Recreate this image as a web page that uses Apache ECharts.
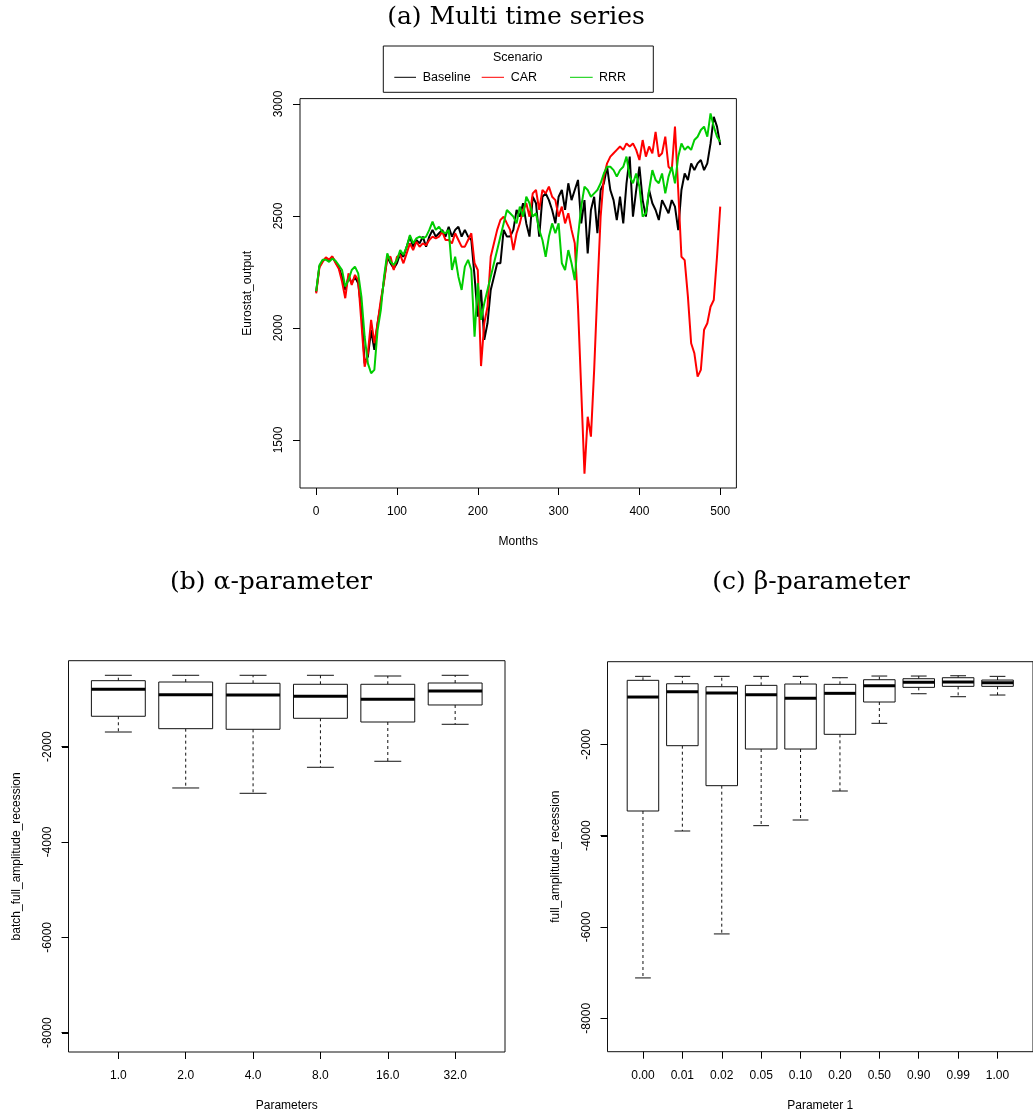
<!DOCTYPE html>
<html><head><meta charset="utf-8">
<script src="https://cdn.jsdelivr.net/npm/echarts@6/dist/echarts.min.js"></script>
<style>html,body{margin:0;padding:0;background:#fff}#c{width:1033px;height:1115px}</style>
</head><body><div id="c"></div>
<script>
// ---------- (a) Multi time series ----------
const months = [
  0,4,8,12,16,20,24,28,32,36,
  40,44,48,52,56,60,64,68,72,76,
  80,84,88,92,96,100,104,108,112,116,
  120,124,128,132,136,140,144,148,152,156,
  160,164,168,172,176,180,184,188,192,196,
  200,204,208,212,216,220,224,228,232,236,
  240,244,248,252,256,260,264,268,272,276,
  280,284,288,292,296,300,304,308,312,316,
  320,324,328,332,336,340,344,348,352,356,
  360,364,368,372,376,380,384,388,392,396,
  400,404,408,412,416,420,424,428,432,436,
  440,444,448,452,456,460,464,468,472,476,
  480,484,488,492,496,500
];
const baseline = [
  2160,2275,2300,2310,2300,2315,2295,2270,2229,2170,
  2229,2200,2229,2200,2080,1842,1872,1991,1902,2021,
  2110,2214,2318,2289,2266,2289,2333,2318,2363,2408,
  2363,2393,2378,2408,2363,2408,2438,2408,2423,2438,
  2408,2452,2408,2438,2452,2408,2438,2408,2393,2229,
  2051,2170,1947,2021,2170,2229,2289,2289,2438,2408,
  2408,2438,2527,2497,2557,2467,2408,2586,2557,2408,
  2586,2601,2571,2527,2467,2586,2616,2527,2646,2571,
  2616,2661,2467,2571,2333,2527,2586,2423,2616,2646,
  2720,2616,2571,2482,2586,2467,2646,2765,2497,2616,
  2720,2571,2497,2616,2557,2527,2482,2571,2542,2512,
  2571,2542,2437,2616,2690,2661,2735,2705,2735,2750,
  2705,2735,2824,2943,2899,2817
];
const car = [
  2155,2270,2295,2315,2305,2320,2290,2265,2207,2133,
  2244,2192,2237,2214,2021,1827,1887,2036,1932,2021,
  2125,2207,2311,2318,2259,2318,2326,2289,2333,2378,
  2348,2385,2363,2378,2370,2393,2408,2400,2408,2430,
  2393,2393,2378,2423,2393,2363,2363,2393,2423,2289,
  2259,1830,2021,2095,2318,2378,2438,2482,2497,2467,
  2438,2348,2423,2467,2527,2557,2497,2601,2616,2527,
  2616,2601,2631,2586,2571,2497,2542,2467,2512,2438,
  2378,2095,1723,1350,1604,1515,1813,2170,2497,2676,
  2735,2765,2780,2795,2810,2795,2824,2810,2824,2795,
  2750,2839,2765,2810,2780,2876,2765,2780,2854,2720,
  2705,2899,2616,2318,2303,2140,1932,1887,1783,1813,
  1992,2021,2095,2125,2318,2542
];
const rrr = [
  2165,2280,2305,2305,2295,2310,2300,2280,2259,2185,
  2214,2259,2274,2244,2140,1961,1842,1798,1813,1991,
  2080,2229,2333,2296,2281,2304,2348,2326,2363,2415,
  2378,2400,2408,2400,2408,2438,2475,2438,2452,2430,
  2423,2438,2259,2318,2229,2170,2274,2304,2259,1961,
  2200,2036,2110,2170,2229,2289,2348,2408,2467,2527,
  2512,2497,2467,2542,2497,2586,2557,2497,2512,2438,
  2393,2318,2408,2467,2423,2467,2289,2259,2348,2289,
  2214,2408,2542,2631,2616,2586,2601,2616,2646,2690,
  2720,2720,2705,2676,2705,2720,2765,2676,2646,2690,
  2631,2497,2512,2616,2705,2661,2646,2690,2601,2676,
  2720,2646,2765,2824,2795,2810,2795,2839,2854,2884,
  2899,2854,2958,2899,2854,2832
];
const seriesNames = ['Baseline', 'CAR', 'RRR'];
const monthTicks = [0, 100, 200, 300, 400, 500];
const outputTicks = [1500, 2000, 2500, 3000];

// ---------- (b) alpha-parameter ----------
const alphaLabels = ['1.0', '2.0', '4.0', '8.0', '16.0', '32.0'];
const alphaLow  = [-1692, -2866, -2978, -2432, -2306, -1530];
const alphaQ1   = [-1362, -1622, -1635, -1404, -1482, -1125];
const alphaMed  = [-796, -909, -915, -943, -1007, -831];
const alphaQ3   = [-615, -643, -670, -691, -691, -664];
const alphaHigh = [-502, -502, -502, -502, -517, -502];

// ---------- (c) beta-parameter ----------
const betaLabels = ['0.00', '0.01', '0.02', '0.05', '0.10', '0.20', '0.50', '0.90', '0.99', '1.00'];
const betaLow  = [-7116, -3897, -6152, -3780, -3656, -3021, -1538, -890, -955, -918];
const betaQ1   = [-3459, -2028, -2904, -2101, -2101, -1779, -1071, -750, -728, -728];
const betaMed  = [-962, -846, -874, -912, -990, -881, -714, -640, -633, -649];
const betaQ3   = [-596, -671, -736, -706, -677, -684, -583, -561, -539, -590];
const betaHigh = [-509, -509, -509, -509, -509, -539, -502, -502, -496, -509];
const ampTicks = [-8000, -6000, -4000, -2000];

// ---------- helpers ----------
const SANS = '"Liberation Sans", Arial, Helvetica, sans-serif';
const SERIF = '"DejaVu Serif", serif';
function pairs(xs, ys) { return xs.map((x, i) => [x, ys[i]]); }
function boxRows(labels, lo, q1, md, q3, hi) {
  return labels.map((_, i) => [i + 1, lo[i], q1[i], md[i], q3[i], hi[i]]);
}
function boxRender(params, api) {
  const x = api.value(0);
  const low = api.coord([x, api.value(1)]);
  const q1 = api.coord([x, api.value(2)]);
  const med = api.coord([x, api.value(3)]);
  const q3 = api.coord([x, api.value(4)]);
  const high = api.coord([x, api.value(5)]);
  const w = api.size([0.8, 0])[0];
  const cx = q1[0], half = w / 2, cap = w / 4;
  const stroke = '#111';
  return { type: 'group', children: [
    { type: 'line', shape: { x1: cx, y1: q1[1], x2: cx, y2: low[1] }, style: { stroke, lineWidth: 1, lineDash: [3, 3] } },
    { type: 'line', shape: { x1: cx, y1: q3[1], x2: cx, y2: high[1] }, style: { stroke, lineWidth: 1, lineDash: [3, 3] } },
    { type: 'line', shape: { x1: cx - cap, y1: low[1], x2: cx + cap, y2: low[1] }, style: { stroke, lineWidth: 1 } },
    { type: 'line', shape: { x1: cx - cap, y1: high[1], x2: cx + cap, y2: high[1] }, style: { stroke, lineWidth: 1 } },
    { type: 'rect', shape: { x: cx - half, y: q3[1], width: w, height: q1[1] - q3[1] }, style: { fill: '#fff', stroke, lineWidth: 1 } },
    { type: 'line', shape: { x1: cx - half, y1: med[1], x2: cx + half, y2: med[1] }, style: { stroke: '#000', lineWidth: 3 } }
  ]};
}
// y-axis tick marks drawn through the axis scale (outward, 7px)
function yTickSeries(gridIdx, xMin, ticks) {
  return {
    type: 'custom', xAxisIndex: gridIdx, yAxisIndex: gridIdx, silent: true, clip: false, z: 5,
    data: ticks.map(v => [xMin, v]), encode: { x: 0, y: 1 },
    renderItem: (params, api) => {
      const p = api.coord([api.value(0), api.value(1)]);
      const y = Math.round(p[1]) + 0.5;
      const x0 = Math.round(p[0]);
      return { type: 'line', shape: { x1: x0 - 7, y1: y, x2: x0, y2: y }, style: { stroke: '#000', lineWidth: 1 } };
    }
  };
}
const plain = v => String(v);
function axisCommon(grid, min, max, ticks) {
  return {
    type: 'value', gridIndex: grid, min, max,
    axisLine: { show: false, onZero: false },
    splitLine: { show: false },
    axisTick: { show: true, inside: false, customValues: ticks, length: 7, lineStyle: { color: '#000', width: 1 } }
  };
}
function xAxisCfg(grid, min, max, ticks, name, fmt) {
  return Object.assign(axisCommon(grid, min, max, ticks), {
    position: 'bottom',
    axisLabel: { customValues: ticks, margin: 18, fontSize: 12, color: '#000', fontFamily: SANS, formatter: fmt || plain },
    name, nameLocation: 'middle', nameGap: 48,
    nameTextStyle: { fontSize: 12, color: '#000', fontFamily: SANS }
  });
}
function yAxisCfg(grid, min, max, ticks, name) {
  return Object.assign(axisCommon(grid, min, max, ticks), {
    position: 'left',
    axisLabel: { customValues: ticks, margin: 15, rotate: 90, fontSize: 12, color: '#000', fontFamily: SANS, formatter: plain },
    name, nameLocation: 'middle', nameGap: 46, nameRotate: 90,
    nameTextStyle: { fontSize: 12, color: '#000', fontFamily: SANS }
  });
}

const colors = ['#000000', '#ff0000', '#00cd00'];
const lineData = [baseline, car, rrr];

const option = {
  animation: false,
  backgroundColor: '#fff',
  grid: [
    { left: 300, top: 98.6, width: 436.4, height: 389.4, show: true, borderColor: '#111', borderWidth: 1, backgroundColor: 'transparent' },
    { left: 68.5, top: 660.7, width: 436.5, height: 391.3, show: true, borderColor: '#111', borderWidth: 1, backgroundColor: 'transparent' },
    { left: 607.5, top: 661.7, width: 435.8, height: 390, show: true, borderColor: '#111', borderWidth: 1, backgroundColor: 'transparent' }
  ],
  xAxis: [
    xAxisCfg(0, -20, 520, monthTicks, 'Months'),
    xAxisCfg(1, 0.26, 6.74, alphaLabels.map((_, i) => i + 1), 'Parameters', v => alphaLabels[Math.round(v) - 1]),
    xAxisCfg(2, 0.1, 10.9, betaLabels.map((_, i) => i + 1), 'Parameter 1', v => betaLabels[Math.round(v) - 1])
  ],
  yAxis: [
    yAxisCfg(0, 1285.7, 3024.1, outputTicks, 'Eurostat_output'),
    yAxisCfg(1, -8405, -196, ampTicks, 'batch_full_amplitude_recession'),
    yAxisCfg(2, -8732, -188, ampTicks, 'full_amplitude_recession')
  ],
  series: [
    ...lineData.map((d, i) => ({
      name: seriesNames[i], type: 'line', xAxisIndex: 0, yAxisIndex: 0,
      data: pairs(months, d), showSymbol: false, symbol: 'none',
      lineStyle: { color: colors[i], width: 2 }, itemStyle: { color: colors[i] }
    })),
    { type: 'custom', xAxisIndex: 1, yAxisIndex: 1, renderItem: boxRender,
      data: boxRows(alphaLabels, alphaLow, alphaQ1, alphaMed, alphaQ3, alphaHigh),
      encode: { x: 0, y: [1, 2, 3, 4, 5] } },
    { type: 'custom', xAxisIndex: 2, yAxisIndex: 2, renderItem: boxRender,
      data: boxRows(betaLabels, betaLow, betaQ1, betaMed, betaQ3, betaHigh),
      encode: { x: 0, y: [1, 2, 3, 4, 5] } },
    yTickSeries(0, -20, outputTicks),
    yTickSeries(1, 0.26, ampTicks),
    yTickSeries(2, 0.1, ampTicks)
  ],
  graphic: [
    { type: 'text', x: 516, y: 17, style: { text: '(a) Multi time series', font: '25px ' + SERIF, fill: '#000', align: 'center', verticalAlign: 'middle' } },
    { type: 'text', x: 271, y: 582, style: { text: '(b) α-parameter', font: '25px ' + SERIF, fill: '#000', align: 'center', verticalAlign: 'middle' } },
    { type: 'text', x: 811, y: 582, style: { text: '(c) β-parameter', font: '25px ' + SERIF, fill: '#000', align: 'center', verticalAlign: 'middle' } },
    { type: 'rect', shape: { x: 383.3, y: 46, width: 270, height: 46.3 }, style: { fill: '#fff', stroke: '#111', lineWidth: 1 } },
    { type: 'text', x: 517.7, y: 57.3, style: { text: 'Scenario', font: '12.5px ' + SANS, fill: '#000', align: 'center', verticalAlign: 'middle' } },
    { type: 'line', shape: { x1: 394.3, y1: 77.3, x2: 416, y2: 77.3 }, style: { stroke: colors[0], lineWidth: 1 } },
    { type: 'text', x: 422.7, y: 77.3, style: { text: seriesNames[0], font: '12.5px ' + SANS, fill: '#000', align: 'left', verticalAlign: 'middle' } },
    { type: 'line', shape: { x1: 481.7, y1: 77.3, x2: 504, y2: 77.3 }, style: { stroke: colors[1], lineWidth: 1 } },
    { type: 'text', x: 510.7, y: 77.3, style: { text: seriesNames[1], font: '12.5px ' + SANS, fill: '#000', align: 'left', verticalAlign: 'middle' } },
    { type: 'line', shape: { x1: 570, y1: 77.3, x2: 592.7, y2: 77.3 }, style: { stroke: colors[2], lineWidth: 1 } },
    { type: 'text', x: 599, y: 77.3, style: { text: seriesNames[2], font: '12.5px ' + SANS, fill: '#000', align: 'left', verticalAlign: 'middle' } }
  ]
};
const chart = echarts.init(document.getElementById('c'), null, { renderer: 'canvas' });
chart.setOption(option);
</script>
</body></html>
